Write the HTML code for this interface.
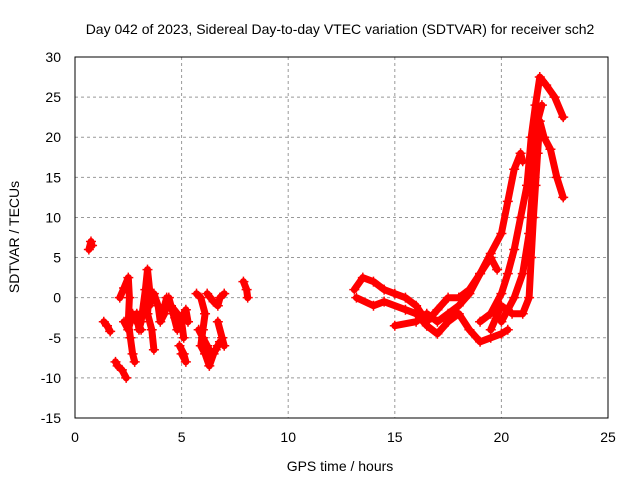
<!DOCTYPE html>
<html><head><meta charset="utf-8"><style>
body{margin:0;background:#fff}
svg{display:block;font-family:"Liberation Sans",sans-serif}
</style></head><body>
<svg id="c" width="640" height="480">
<text x="340" y="34" font-size="14" text-anchor="middle">Day 042 of 2023, Sidereal Day-to-day VTEC variation (SDTVAR) for receiver sch2</text>
<text x="340" y="471" font-size="14" text-anchor="middle">GPS time / hours</text>
<text transform="translate(19,237) rotate(-90)" font-size="14" text-anchor="middle">SDTVAR / TECUs</text>
<g id="grid"></g><g id="marks"></g>
<rect x="75" y="57" width="533" height="361" fill="none" stroke="#000"/>
</svg>
<script>
const xTicks=[0,5,10,15,20,25];
const yTicks=[-15,-10,-5,0,5,10,15,20,25,30];
const trackT=[
[0.65,0.75,0.8],
[1.35,1.5,1.65],
[1.9,2.0,2.2,2.4],
[2.1,2.3,2.5,2.55,2.5,2.6,2.7,2.8],
[2.9,3.0,3.1,3.3,3.4,3.5,3.4,3.6,3.7],
[3.5,3.7,3.9,4.0,4.2,4.4,4.6,4.8,5.0,5.1],
[4.5,4.8,5.0,5.1,5.2,5.3],
[4.9,5.1,5.2,5.0],
[5.7,5.9,6.1,6.0,5.9,6.1,6.3,6.5,6.7],
[6.2,6.5,6.7,6.8,7.0],
[6.7,6.9,7.0],
[7.9,8.05,8.1],
[2.3,2.5,2.7,2.9,3.1],
[3.9,4.1,4.3,4.5,4.7],
[5.8,6.0,6.2,6.4,6.6,6.8],
[13.1,13.5,14,14.5,15,15.5,16,16.5,17,17.5,18,18.5,19,19.5,20,20.3,20.6,20.9,21],
[13.2,14,14.5,15.5,16,16.5,17,17.5,18,18.5,19,19.5,20,20.3],
[15,16,16.5,17,17.5,18,18.5,19,19.5,19.8],
[19,19.5,20,20.3,20.6,20.9,21.2,21.4,21.6,21.8,22.1,22.5,22.9],
[19.5,20,20.5,21,21.3,21.4,21.5,21.6,21.7,21.8,22,22.3,22.6,22.9],
[20,20.6,21,21.3,21.5,21.7,21.9]
];
const trackV=[
[6,7,6.5],
[-3,-3.5,-4.2],
[-8,-8.5,-9,-10],
[0,1.2,2.5,0,-3,-5,-7,-8],
[-2,-4,-3,1,3.5,1,-2,-4,-6.5],
[-1,0.5,-1,-3,-2,0,-2,-4,-3,-5],
[-1,-2,-3,-2,-1.5,-3],
[-6,-7,-8,-7],
[0.5,0,-2,-4,-6,-7,-8.5,-7,-6],
[0.5,-0.5,-1,0,0.5],
[-3,-5,-6],
[2,1,0],
[-3,-4,-2,-3,-4],
[-1,-2,0,-1,-2.5],
[-4,-5,-6,-7,-6.5,-5.5],
[1,2.5,2,1,0.5,0,-1,-3,-1.5,0,0,1,3,5.5,8,12,16,18,17],
[0,-1,-0.5,-1.5,-2,-3.5,-4.5,-3,-2,-4,-5.5,-5,-4.5,-4],
[-3.5,-3,-2,-3,-2,-1,0.5,3,5,3.5],
[-3,-2,0.5,3,6,10,14,20,24,27.5,26.5,25,22.5],
[-4,-1,-2,-2,0,5,10,14,18,22,20,18.5,15,12.5],
[-3,0,3,8,15,22,24]
];
const X=t=>75+t*533/25, Y=v=>57+(30-v)*361/45;
const NS='http://www.w3.org/2000/svg';
const g=document.getElementById('grid'), m=document.getElementById('marks');
function mk(tag,at,parent){const e=document.createElementNS(NS,tag);for(const k in at)e.setAttribute(k,at[k]);parent.appendChild(e);return e;}
xTicks.forEach(t=>{
 if(t>0&&t<25){const l=mk('line',{x1:X(t),x2:X(t),y1:57,y2:418,stroke:'#999','stroke-dasharray':'3,3'},g);
 
 }
 const s=mk('text',{x:X(t),y:442,'font-size':14,'text-anchor':'middle'},g);s.textContent=t;
 
 
});
yTicks.forEach(v=>{
 if(v>-15&&v<30){const l=mk('line',{x1:75,x2:608,y1:Y(v),y2:Y(v),stroke:'#999','stroke-dasharray':'3,3'},g);
 
 }
 const s=mk('text',{x:61,y:Y(v)+5,'font-size':14,'text-anchor':'end'},g);s.textContent=v;
 
 
});
trackT.forEach((ts,i)=>{
 const vs=trackV[i];
 const pts=ts.map((t,j)=>X(t).toFixed(1)+','+Y(vs[j]).toFixed(1)).join(' ');
 const p=mk('polyline',{points:pts,fill:'none',stroke:'#f00','stroke-width':7,'stroke-linejoin':'round','stroke-linecap':'round'},m);
 
 
 ts.forEach((t,j)=>{
  const x=X(t),y=Y(vs[j]);
  const c=mk('path',{d:`M${x-5},${y}H${x+5}M${x},${y-5}V${y+5}`,stroke:'#f00','stroke-width':1.5},m);
  
  
 });
});
</script>
</body></html>
